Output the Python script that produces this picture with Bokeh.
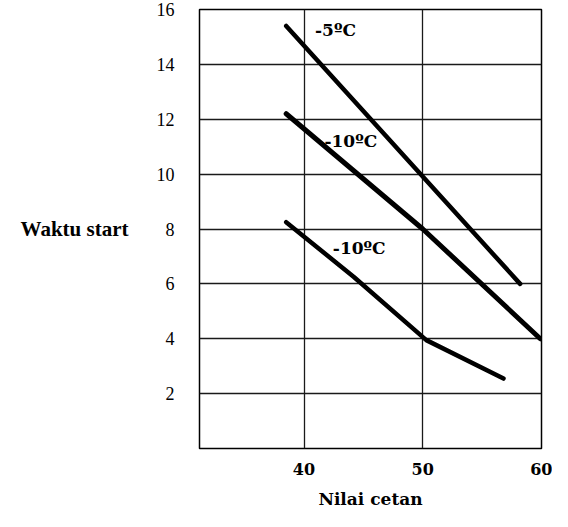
from bokeh.plotting import figure
from bokeh.models import FixedTicker, Label, Range1d
from bokeh.embed import file_html
from bokeh.resources import INLINE

# ---- data ----
cetane_a = [38.5, 58.2]
time_a = [15.4, 6.0]
cetane_b = [38.5, 50.0, 59.9]
time_b = [12.2, 8.0, 4.0]
cetane_c = [38.5, 44.2, 50.3, 56.8]
time_c = [8.25, 6.25, 3.95, 2.55]
series_labels = ["-5ºC", "-10ºC", "-10ºC"]
label_x = [40.93, 41.72, 42.43]
label_y = [15.26, 11.2, 7.3]
x_ticks = [40, 50, 60]
y_ticks = [2, 4, 6, 8, 10, 12, 14, 16]
x_title = "Nilai cetan"
y_title = "Waktu start"

p = figure(width=552, height=511, x_range=Range1d(31.2, 60), y_range=Range1d(0, 16),
           output_backend="svg", toolbar_location=None,
           min_border_left=199, min_border_right=11, min_border_top=9, min_border_bottom=63)
p.background_fill_color = "white"
p.border_fill_color = "white"
p.outline_line_color = "black"
p.outline_line_width = 1.5

p.xgrid.ticker = FixedTicker(ticks=[40, 50])
p.ygrid.ticker = FixedTicker(ticks=y_ticks[:-1])
for g in (p.xgrid, p.ygrid):
    g.grid_line_color = "#1a1a1a"
    g.grid_line_width = 1.3

p.xaxis.ticker = FixedTicker(ticks=x_ticks)
p.yaxis.ticker = FixedTicker(ticks=y_ticks)
for ax in (p.xaxis, p.yaxis):
    ax.axis_line_color = None
    ax.major_tick_line_color = None
    ax.minor_tick_line_color = None
    ax.major_tick_out = 0
    ax.major_tick_in = 0
p.xaxis.major_label_text_font = "DejaVu Serif"
p.xaxis.major_label_text_font_style = "bold"
p.xaxis.major_label_text_font_size = "16px"
p.xaxis.major_label_text_color = "black"
p.xaxis.major_label_standoff = 14
p.yaxis.major_label_text_font = "Liberation Serif"
p.yaxis.major_label_text_font_size = "18px"
p.yaxis.major_label_text_color = "black"
p.yaxis.major_label_standoff = 25

p.xaxis.axis_label = x_title
p.xaxis.axis_label_text_font = "DejaVu Serif"
p.xaxis.axis_label_text_font_style = "bold"
p.xaxis.axis_label_text_font_size = "17px"
p.xaxis.axis_label_text_color = "black"
p.xaxis.axis_label_standoff = 11

p.yaxis.axis_label = y_title
p.yaxis.axis_label_orientation = "horizontal"
p.yaxis.axis_label_text_font = "Liberation Serif"
p.yaxis.axis_label_text_font_style = "bold"
p.yaxis.axis_label_text_font_size = "21px"
p.yaxis.axis_label_text_color = "black"
p.yaxis.axis_label_standoff = 25

p.line(cetane_a, time_a, line_color="black", line_width=4.5, line_cap="round")
p.line(cetane_b, time_b, line_color="black", line_width=5, line_cap="round", line_join="round")
p.line(cetane_c, time_c, line_color="black", line_width=4.5, line_cap="round", line_join="round")

for t, lx, ly in zip(series_labels, label_x, label_y):
    p.add_layout(Label(x=lx, y=ly, text=t, text_font="DejaVu Serif", text_font_style="bold",
                       text_font_size="17px", text_baseline="middle", text_align="left",
                       text_color="black"))

open("out.html", "w").write(file_html(p, INLINE))
